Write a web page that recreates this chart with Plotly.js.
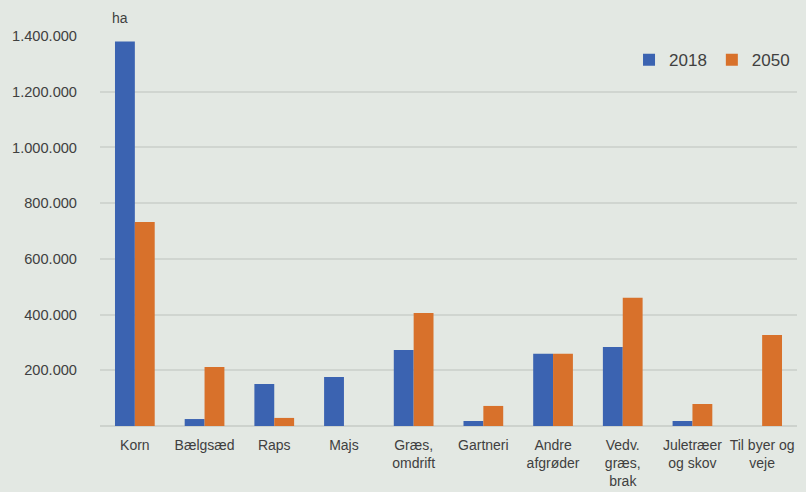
<!DOCTYPE html>
<html><head><meta charset="utf-8">
<script src="https://cdn.plot.ly/plotly-3.0.1.min.js"></script>
<style>html,body{margin:0;padding:0;background:#e3e8e3;}#chart{width:806px;height:492px;}</style>
</head><body><div id="chart"></div>
<script>
const categories = ["Korn","Bælgsæd","Raps","Majs","Græs,<br>omdrift","Gartneri","Andre<br>afgrøder","Vedv.<br>græs,<br>brak","Juletræer<br>og skov","Til byer og<br>veje"];
const values2018 = [1380000, 25000, 151000, 176000, 273000, 18000, 259000, 284000, 18000, 0];
const values2050 = [732000, 212000, 29000, 0, 406000, 72000, 259000, 460000, 79000, 327000];
const seriesNames = ["2018","2050"];
const yTicks = [0,200000,400000,600000,800000,1000000,1200000,1400000];
const yTickText = ["","200.000","400.000","600.000","800.000","1.000.000","1.200.000","1.400.000"];
const unitLabel = "ha";

const traces = [
  {type:"bar", name:seriesNames[0], x:categories, y:values2018, marker:{color:"#3b63b1"}},
  {type:"bar", name:seriesNames[1], x:categories, y:values2050, marker:{color:"#d8712b"}}
];
const layout = {
  width:806, height:492,
  paper_bgcolor:"#e3e8e3", plot_bgcolor:"#e3e8e3",
  font:{family:"Liberation Sans, Arial, sans-serif", color:"#404040", size:14},
  margin:{l:100, r:9, t:36, b:66},
  barmode:"group", bargap:0.43, bargroupgap:0,
  showlegend:true,
  legend:{orientation:"h", x:0.759, y:0.984, xanchor:"left", yanchor:"top", font:{size:17, color:"#404040"}, bgcolor:"rgba(0,0,0,0)", itemwidth:30},
  xaxis:{showgrid:false, showline:false, ticks:"", ticklabelstandoff:9, tickfont:{size:14, color:"#404040"}, fixedrange:true},
  yaxis:{range:[0,1400000], tickvals:yTicks, ticktext:yTickText, gridcolor:"#d0d5d0", gridwidth:2, zeroline:true, zerolinecolor:"#cdd2cd", zerolinewidth:2, showline:false, ticks:"", ticklabelstandoff:22, tickfont:{size:14.6, color:"#404040"}},
  annotations:[{text:unitLabel, xref:"paper", yref:"paper", x:0.029, y:1, yshift:18, showarrow:false, xanchor:"center", yanchor:"middle", font:{size:14, color:"#404040"}}]
};
Plotly.newPlot("chart", traces, layout, {displayModeBar:false, staticPlot:true});
</script></body></html>
